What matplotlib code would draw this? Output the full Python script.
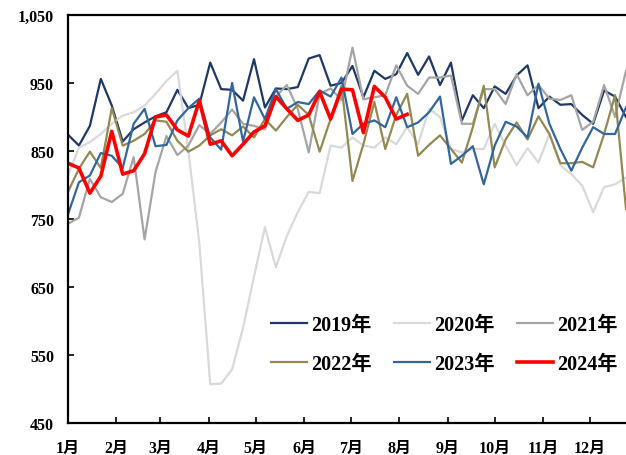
import matplotlib
matplotlib.use("Agg")
import matplotlib.pyplot as plt
import numpy as np

# weekly values, week 1 .. week 52
y2019 = [874, 858, 887, 956, 917, 864, 882, 892, 901, 907, 940, 913, 918, 980, 941, 940,
         924, 985, 914, 942, 941, 944, 986, 991, 946, 950, 975, 929, 968, 956, 963, 994,
         962, 989, 947, 980, 895, 932, 913, 945, 934, 961, 976, 913, 930, 918, 919, 903,
         890, 939, 930, 900]
y2020 = [814, 855, 863, 875, 890, 902, 907, 917, 934, 953, 968, 850, 715, 507, 508, 529,
         590, 665, 738, 679, 725, 760, 790, 788, 858, 855, 870, 858, 855, 870, 860, 885,
         860, 912, 900, 853, 848, 853, 853, 890, 858, 829, 854, 833, 875, 829, 816, 799,
         760, 797, 801, 811]
y2021 = [743, 752, 809, 782, 775, 787, 841, 720, 819, 872, 844, 858, 888, 875, 892, 911,
         890, 887, 882, 930, 947, 912, 848, 934, 942, 925, 1002, 926, 929, 932, 976, 946,
         934, 958, 958, 961, 890, 890, 941, 941, 919, 963, 932, 947, 927, 925, 932, 881,
         893, 947, 900, 968]
y2022 = [790, 824, 849, 825, 913, 858, 865, 875, 895, 893, 865, 849, 858, 873, 882, 873,
         886, 870, 897, 880, 900, 918, 903, 849, 897, 946, 806, 860, 922, 853, 903, 934,
         843, 859, 873, 853, 833, 885, 946, 826, 867, 892, 867, 901, 875, 832, 832, 834,
         826, 875, 932, 765]
y2023 = [757, 804, 814, 847, 843, 825, 890, 912, 857, 859, 895, 913, 927, 870, 852, 950,
         864, 929, 897, 941, 912, 922, 919, 939, 930, 958, 875, 890, 895, 885, 929, 885,
         892, 907, 930, 831, 843, 857, 801, 858, 893, 886, 870, 949, 890, 853, 821, 855,
         885, 875, 875, 914]
y2024 = [832, 825, 788, 813, 879, 816, 821, 846, 900, 903, 881, 872, 924, 860, 865, 843,
         860, 878, 887, 930, 912, 895, 903, 937, 897, 941, 940, 877, 945, 929, 897, 904]

months = ['1月', '2月', '3月', '4月', '5月', '6月', '7月', '8月', '9月', '10月', '11月', '12月']
month_start_day = [0, 31, 59, 90, 120, 151, 181, 212, 243, 273, 304, 334]

plt.rcParams['font.family'] = ['Liberation Serif', 'Noto Sans CJK SC']
plt.rcParams['font.weight'] = 'bold'

fig = plt.figure(figsize=(6.26, 4.56), dpi=100)
ax = fig.add_axes([68 / 626, 32 / 456, 1 - 68 / 626, 408 / 456])

series = [
    ('2019年', y2019, '#1F3864', 1.6),
    ('2020年', y2020, '#D9D9D9', 1.6),
    ('2021年', y2021, '#A5A5A5', 1.6),
    ('2022年', y2022, '#938953', 1.6),
    ('2023年', y2023, '#33669C', 1.6),
    ('2024年', y2024, '#FF0000', 2.6),
]
lines = {}
for label, vals, color, lw in series:
    lines[label], = ax.plot(np.arange(len(vals)), vals, color=color, lw=lw, label=label)

ax.set_xlim(0, 51)
ax.set_ylim(450, 1050)
ax.set_yticks(np.arange(450, 1051, 100))
ax.set_yticklabels(['{:,}'.format(v) for v in range(450, 1051, 100)])
ax.set_xticks([d / 7 for d in month_start_day])
ax.set_xticklabels(months)
ax.tick_params(axis='both', direction='in', length=4, width=1.2, labelsize=11.5)
ax.tick_params(axis='x', pad=12)
ax.tick_params(axis='y', pad=10)
for lab in ax.get_xticklabels() + ax.get_yticklabels():
    lab.set_fontweight('bold')

for s in ['left', 'bottom', 'top']:
    ax.spines[s].set_linewidth(1.6)
ax.spines['right'].set_visible(False)

# legend fills column by column, so order it to read row by row
order = ['2019年', '2022年', '2020年', '2023年', '2021年', '2024年']
leg = ax.legend([lines[k] for k in order], order, ncol=3, frameon=False,
                prop={'size': 14.5, 'weight': 'bold'},
                loc='upper left', bbox_to_anchor=(271 / 626, 1 - 316 / 456),
                bbox_transform=fig.transFigure, borderpad=0, borderaxespad=0,
                handlelength=1.8, handletextpad=0.2, columnspacing=1.1,
                labelspacing=0.95)

plt.savefig('out.png', dpi=100)
